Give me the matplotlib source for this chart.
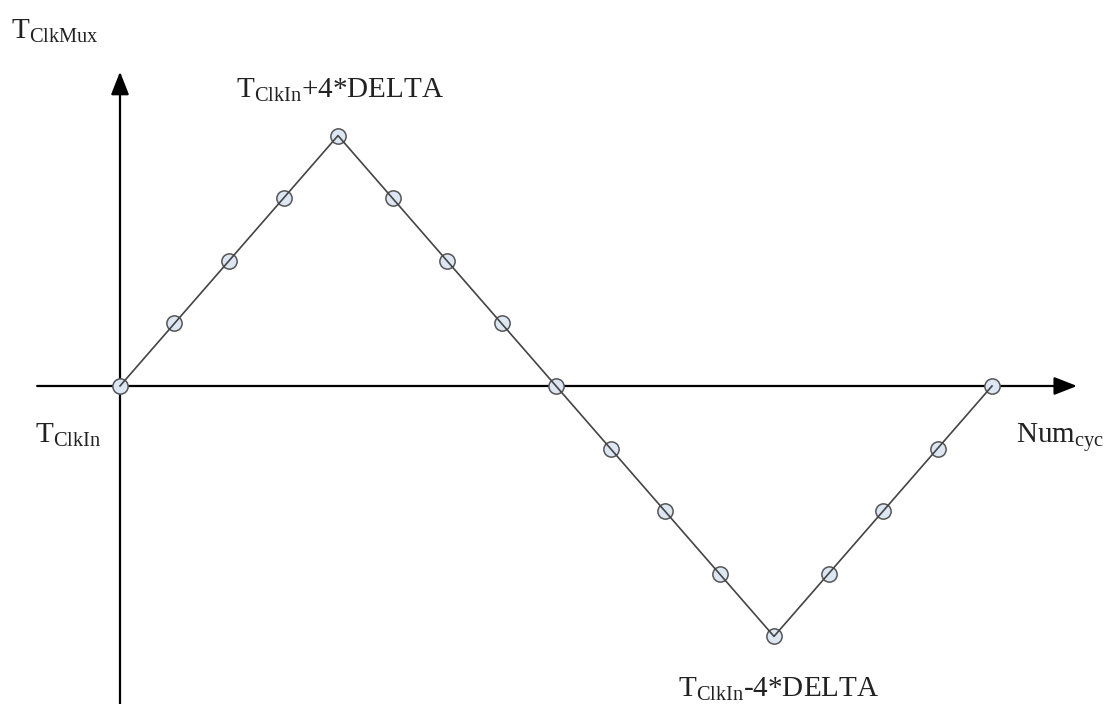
import matplotlib
matplotlib.use('Agg')
import matplotlib.pyplot as plt

# clock mux delay over successive cycles (in units of DELTA)
cycles = list(range(17))
delay_steps = [0, 1, 2, 3, 4, 3, 2, 1, 0, -1, -2, -3, -4, -3, -2, -1, 0]

plt.rcParams['font.family'] = ['Liberation Serif', 'DejaVu Serif']
plt.rcParams['mathtext.fontset'] = 'custom'
plt.rcParams['mathtext.rm'] = 'Liberation Serif'
plt.rcParams['mathtext.it'] = 'Liberation Serif:italic'

fig = plt.figure(figsize=(11.13, 7.04), dpi=100)
ax = fig.add_axes([0, 0, 1, 1])
ax.set_xlim(-2.2018, 18.22)
ax.set_ylim(-5.08, 6.166)
ax.axis('off')

# axes with arrow heads
arrow = dict(arrowstyle='-|>,head_length=1.4,head_width=0.55', color='black', lw=1.6,
             shrinkA=0, shrinkB=0)
ax.annotate('', xy=(17.56, 0), xytext=(-1.52, 0), arrowprops=arrow)
ax.annotate('', xy=(0, 5.02), xytext=(0, -5.08), arrowprops=arrow)

# markers under the line
ax.plot(cycles, delay_steps, linestyle='none', marker='o', markersize=11,
        markerfacecolor='#dde7f4', markeredgecolor='#555555', markeredgewidth=1.1, zorder=3)
ax.plot(cycles, delay_steps, color='#444444', lw=1.2, zorder=4)

tc = '#222222'
fs = 21
ax.text(-2.0, 5.55, r'$\mathrm{T}_{\mathrm{ClkMux}}$', fontsize=fs, color=tc, va='baseline', ha='left')
ax.text(2.12, 4.6, r'$\mathrm{T}_{\mathrm{ClkIn}}$+4*DELTA', fontsize=fs, color=tc, va='baseline', ha='left')
ax.text(-1.56, -0.91, r'$\mathrm{T}_{\mathrm{ClkIn}}$', fontsize=fs, color=tc, va='baseline', ha='left')
ax.text(16.44, -0.91, r'Num$_{\mathrm{cyc}}$', fontsize=fs, color=tc, va='baseline', ha='left')
ax.text(10.24, -4.97, r'$\mathrm{T}_{\mathrm{ClkIn}}$-4*DELTA', fontsize=fs, color=tc, va='baseline', ha='left')

fig.savefig('out.png', dpi=100)
